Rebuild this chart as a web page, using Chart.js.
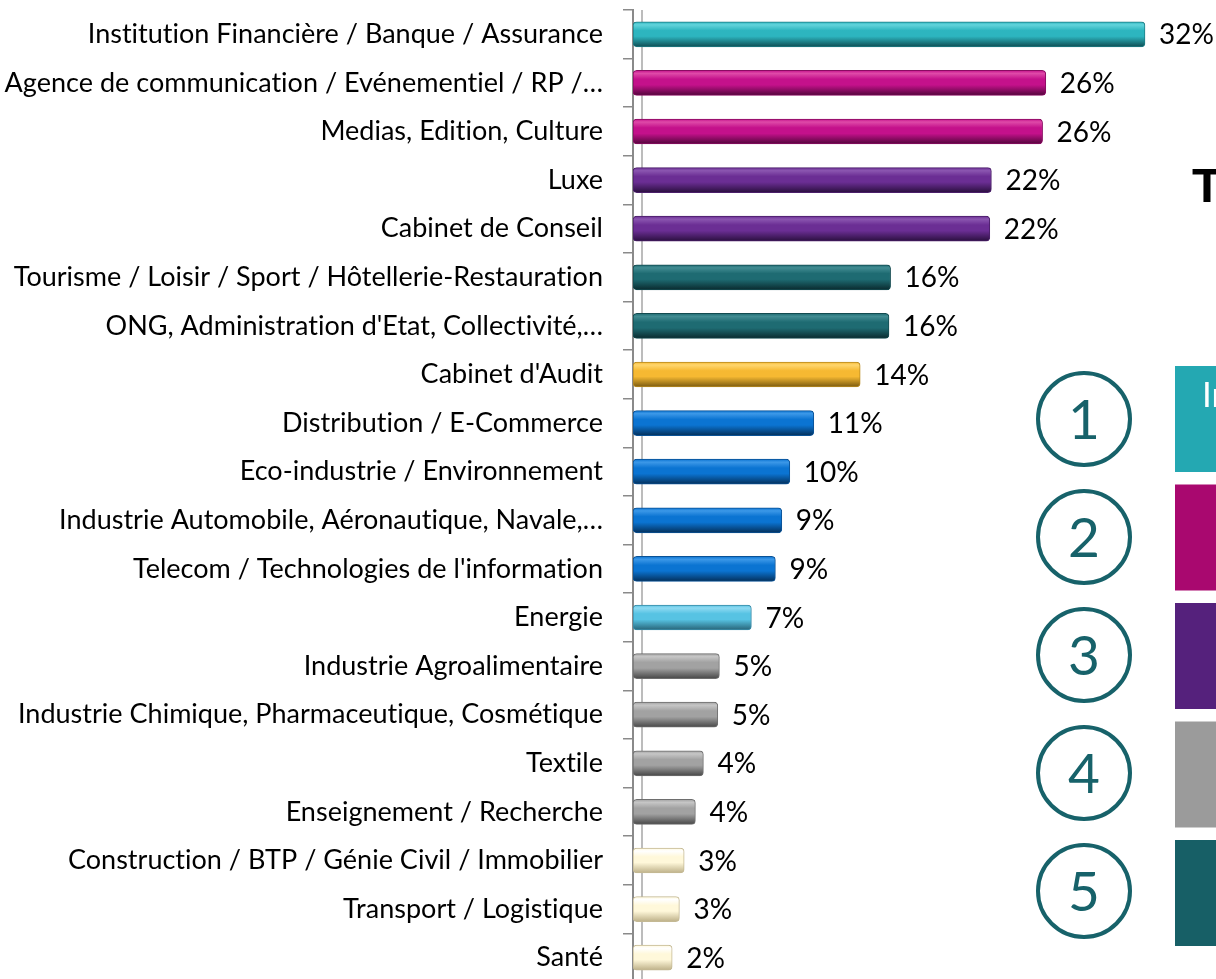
<!DOCTYPE html>
<html>
<head>
<meta charset="utf-8">
<script src="https://cdn.jsdelivr.net/npm/chart.js@4.4.0/dist/chart.umd.min.js"></script>
<style>
  html, body { margin: 0; padding: 0; background: #fff; overflow: hidden; }
  #wrap { position: absolute; left: 0; top: 0; width: 1216px; height: 982px; }
</style>
</head>
<body>
<div id="wrap"><canvas id="secteurs"></canvas></div>
<script>
// --- Données ---
const categories = [
  'Institution Financière / Banque / Assurance',
  'Agence de communication / Evénementiel / RP /…',
  'Medias, Edition, Culture',
  'Luxe',
  'Cabinet de Conseil',
  'Tourisme / Loisir / Sport / Hôtellerie-Restauration',
  "ONG, Administration d'Etat, Collectivité,…",
  "Cabinet d'Audit",
  'Distribution / E-Commerce',
  'Eco-industrie / Environnement',
  'Industrie Automobile, Aéronautique, Navale,…',
  "Telecom / Technologies de l'information",
  'Energie',
  'Industrie Agroalimentaire',
  'Industrie Chimique, Pharmaceutique, Cosmétique',
  'Textile',
  'Enseignement / Recherche',
  'Construction / BTP / Génie Civil / Immobilier',
  'Transport / Logistique',
  'Santé'
];
const values = [32, 25.8, 25.6, 22.4, 22.3, 16.1, 16.0, 14.2, 11.3, 9.8, 9.3, 8.9, 7.4, 5.4, 5.3, 4.4, 3.9, 3.2, 2.9, 2.45];
const barGroups = ['teal', 'magenta', 'magenta', 'purple', 'purple', 'darkteal', 'darkteal', 'gold',
  'blue', 'blue', 'blue', 'blue', 'lightblue', 'gray', 'gray', 'gray', 'gray', 'cream', 'cream', 'cream'];
const topRanks = ['1', '2', '3', '4', '5'];

// couleurs (effet cylindre)
const palette = {
  teal:      { top: '#62d4db', base: '#2db5bf', dark: '#0f4e54', edge: '#1d7c84' },
  magenta:   { top: '#df4aa8', base: '#c4118b', dark: '#52063b', edge: '#8a0b62' },
  purple:    { top: '#8b56b0', base: '#6b2e94', dark: '#2a0f3e', edge: '#4b1f6a' },
  darkteal:  { top: '#428c92', base: '#1e6b72', dark: '#0a2a2e', edge: '#144b50' },
  gold:      { top: '#ffd66e', base: '#f6b932', dark: '#7a5a10', edge: '#b88a20' },
  blue:      { top: '#3c98e8', base: '#0b74d2', dark: '#04305a', edge: '#0a5296' },
  lightblue: { top: '#8edaf2', base: '#57c3e3', dark: '#286478', edge: '#3a8ca8' },
  gray:      { top: '#c6c6c6', base: '#a2a2a2', dark: '#474747', edge: '#6e6e6e' },
  cream:     { top: '#ffffff', base: '#fff8da', dark: '#bdb088', edge: '#c4b994' }
};
const rectColors = ['#24a8b2', '#a9086f', '#55217c', '#9b9b9b', '#175f66'];
const LABEL_FONT = { family: 'Lato', size: 27 };
const BAR_H = 25;

function cylinder(ctx) {
  const c = palette[barGroups[ctx.dataIndex]];
  const chart = ctx.chart;
  if (!chart.chartArea) return c.base;
  const y = chart.scales.y.getPixelForValue(ctx.dataIndex);
  const g = chart.ctx.createLinearGradient(0, y - BAR_H / 2, 0, y + BAR_H / 2);
  g.addColorStop(0, c.base);
  g.addColorStop(0.12, c.top);
  g.addColorStop(0.35, c.base);
  g.addColorStop(0.58, c.base);
  g.addColorStop(1, c.dark);
  return g;
}

// pas de ligatures "ti" de Lato
const noLigatures = {
  id: 'noLigatures',
  beforeDraw(chart) { chart.ctx.letterSpacing = '0.01px'; }
};

// petit mur 3D derrière les barres
const wallLine = {
  id: 'wallLine',
  beforeDatasetsDraw(chart) {
    const { ctx, chartArea } = chart;
    ctx.save();
    ctx.strokeStyle = '#a6a6a6';
    ctx.lineWidth = 1.5;
    ctx.beginPath();
    ctx.moveTo(chartArea.left + 9, chartArea.top);
    ctx.lineTo(chartArea.left + 9, chartArea.bottom + 5);
    ctx.stroke();
    ctx.restore();
  }
};

// étiquettes de valeurs
const valueLabels = {
  id: 'valueLabels',
  afterDatasetsDraw(chart) {
    const { ctx } = chart;
    const meta = chart.getDatasetMeta(0);
    ctx.save();
    ctx.font = `28px ${LABEL_FONT.family}`;
    ctx.fillStyle = '#000';
    ctx.textAlign = 'left';
    ctx.textBaseline = 'middle';
    meta.data.forEach((bar, i) => {
      ctx.fillText(Math.round(values[i]) + '%', bar.x + 14, bar.y + 1);
    });
    ctx.restore();
  }
};

// encart "Top 5" à droite (coupé par le bord)
const topPanel = {
  id: 'topPanel',
  afterDraw(chart) {
    const { ctx } = chart;
    ctx.save();
    ctx.fillStyle = '#000';
    ctx.font = 'bold 49px "Liberation Sans"';
    ctx.textAlign = 'left';
    ctx.textBaseline = 'alphabetic';
    ctx.fillText('T', 1192, 202);

    topRanks.forEach((n, k) => {
      const cy = 419 + 118 * k;
      ctx.beginPath();
      ctx.arc(1084, cy, 46, 0, Math.PI * 2);
      ctx.strokeStyle = '#17626a';
      ctx.lineWidth = 4;
      ctx.stroke();
      ctx.fillStyle = '#17626a';
      ctx.font = '55px Lato';
      ctx.textAlign = 'center';
      ctx.fillText(n, 1084, cy + 20);

      ctx.fillStyle = rectColors[k];
      ctx.fillRect(1175, 366 + 118.5 * k, 41, 106);
    });
    ctx.fillStyle = '#fff';
    ctx.font = '35px Lato';
    ctx.textAlign = 'left';
    ctx.fillText('In', 1202, 407);
    ctx.restore();
  }
};

new Chart(document.getElementById('secteurs'), {
  type: 'bar',
  data: {
    labels: categories,
    datasets: [{
      data: values,
      backgroundColor: cylinder,
      borderColor: (ctx) => palette[barGroups[ctx.dataIndex]].edge,
      borderWidth: 1,
      borderRadius: 4,
      borderSkipped: false,
      barThickness: BAR_H
    }]
  },
  options: {
    indexAxis: 'y',
    responsive: true,
    maintainAspectRatio: false,
    animation: false,
    layout: { padding: { top: 10, right: 23, bottom: 0, left: 0 } },
    plugins: { legend: { display: false }, tooltip: { enabled: false } },
    scales: {
      x: { display: false, min: 0, max: 35 },
      y: {
        afterFit: (scale) => {
          scale.width = 633;
          scale.paddingTop = 0;
          scale.paddingBottom = 0;
        },
        border: { display: true, color: '#8a8a8a', width: 2 },
        grid: { display: true, drawOnChartArea: false, tickLength: 10, color: '#8a8a8a', lineWidth: 1.5 },
        ticks: { color: '#000', font: LABEL_FONT, padding: 20 }
      }
    }
  },
  plugins: [noLigatures, wallLine, valueLabels, topPanel]
});
</script>
</body>
</html>
